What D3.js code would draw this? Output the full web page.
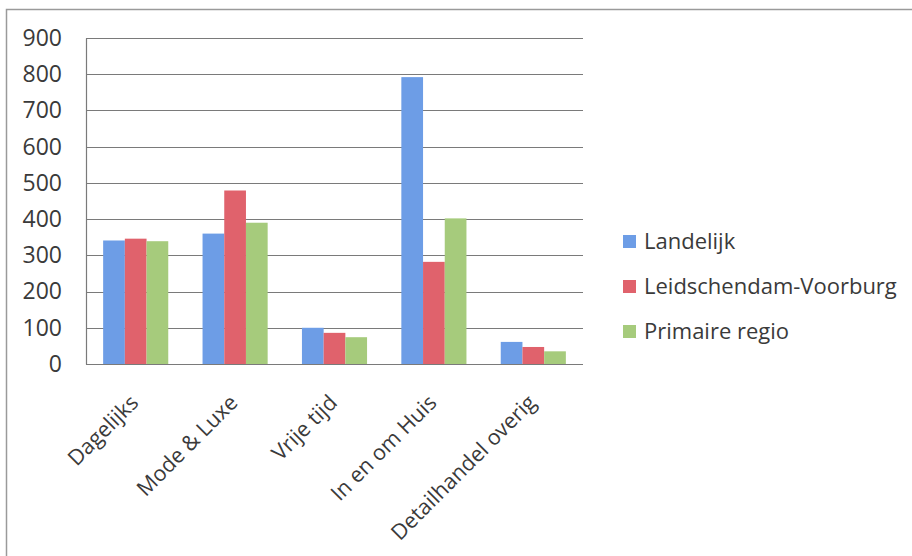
<!DOCTYPE html>
<html>
<head>
<meta charset="utf-8">
<script src="https://cdn.jsdelivr.net/npm/d3@7"></script>
<style>
  html, body { margin: 0; padding: 0; background: #fff; }
  svg { display: block; }
  text { font-family: "Open Sans", "Noto Sans", sans-serif; fill: #3a3a3a; }
</style>
</head>
<body>
<svg id="chart" width="912" height="556"></svg>
<script>
// Categories and series values (aantal)
const categories = ["Dagelijks", "Mode & Luxe", "Vrije tijd", "In en om Huis", "Detailhandel overig"];
const seriesNames = ["Landelijk", "Leidschendam-Voorburg", "Primaire regio"];
const landelijk = [341, 360, 100, 792, 61];
const leidschendamVoorburg = [346, 479, 86, 282, 47];
const primaireRegio = [339, 390, 74, 402, 35];
const yTicks = [0, 100, 200, 300, 400, 500, 600, 700, 800, 900];
const colors = ["#6d9de6", "#e0626c", "#a6cb7c"];

const seriesValues = [landelijk, leidschendamVoorburg, primaireRegio];

const svg = d3.select("#chart");
const W = 912, H = 556;
const plot = { left: 86, right: 583, top: 38, bottom: 364 };

// Outer chart frame (top and left edges visible)
svg.append("path")
  .attr("d", `M6.5,${H} V9.5 H${W}`)
  .attr("fill", "none")
  .attr("stroke", "#9a9a9a")
  .attr("stroke-width", 1.5);

const x0 = d3.scaleBand().domain(categories).range([plot.left, plot.right]).padding(0);
const x1 = d3.scaleBand().domain(seriesNames).range([0, x0.bandwidth()]).paddingInner(0).paddingOuter(0.79);
const y = d3.scaleLinear().domain([0, 900]).range([plot.bottom, plot.top]);

// Horizontal gridlines
svg.append("g")
  .selectAll("line")
  .data(yTicks)
  .join("line")
  .attr("x1", plot.left)
  .attr("x2", plot.right)
  .attr("y1", d => Math.round(y(d)) + 0.5)
  .attr("y2", d => Math.round(y(d)) + 0.5)
  .attr("stroke", "#7a7a7a")
  .attr("stroke-width", 1.2);

// Bars
const rows = categories.map((c, i) => ({ cat: c, vals: seriesNames.map((s, j) => ({ s, j, v: seriesValues[j][i] })) }));
svg.append("g")
  .selectAll("g")
  .data(rows)
  .join("g")
  .attr("transform", d => `translate(${x0(d.cat)},0)`)
  .selectAll("rect")
  .data(d => d.vals)
  .join("rect")
  .attr("x", d => x1(d.s))
  .attr("width", x1.bandwidth())
  .attr("y", d => y(d.v))
  .attr("height", d => y(0) - y(d.v))
  .attr("fill", d => colors[d.j]);

// Y axis
const yAxis = svg.append("g")
  .attr("transform", `translate(${plot.left},0)`)
  .call(d3.axisLeft(y).tickValues(yTicks).tickSize(0).tickPadding(24));
yAxis.select(".domain").attr("stroke", "#7a7a7a").attr("stroke-width", 1.2);
yAxis.selectAll("text")
  .style("font-family", '"Open Sans", sans-serif')
  .style("font-size", "23px")
  .attr("fill", "#3a3a3a");

// X axis baseline
svg.append("line")
  .attr("x1", plot.left).attr("x2", plot.right)
  .attr("y1", Math.round(y(0)) + 0.5).attr("y2", Math.round(y(0)) + 0.5)
  .attr("stroke", "#7a7a7a").attr("stroke-width", 1.2);

// Rotated category labels
svg.append("g")
  .selectAll("text")
  .data(categories)
  .join("text")
  .attr("text-anchor", "end")
  .attr("transform", d => `translate(${x0(d) + x0.bandwidth() / 2 + 4},${plot.bottom + 40}) rotate(-45)`)
  .style("font-size", "21.5px")
  .text(d => d);

// Legend
const legend = svg.append("g").attr("transform", "translate(623,241)");
const item = legend.selectAll("g")
  .data(seriesNames)
  .join("g")
  .attr("transform", (d, i) => `translate(0,${i * 45})`);
item.append("rect")
  .attr("x", 0).attr("y", -6)
  .attr("width", 13).attr("height", 13)
  .attr("fill", (d, i) => colors[i]);
item.append("text")
  .attr("x", 21).attr("y", 0)
  .attr("dy", "0.35em")
  .style("font-size", "22px")
  .text(d => d);
</script>
</body>
</html>
